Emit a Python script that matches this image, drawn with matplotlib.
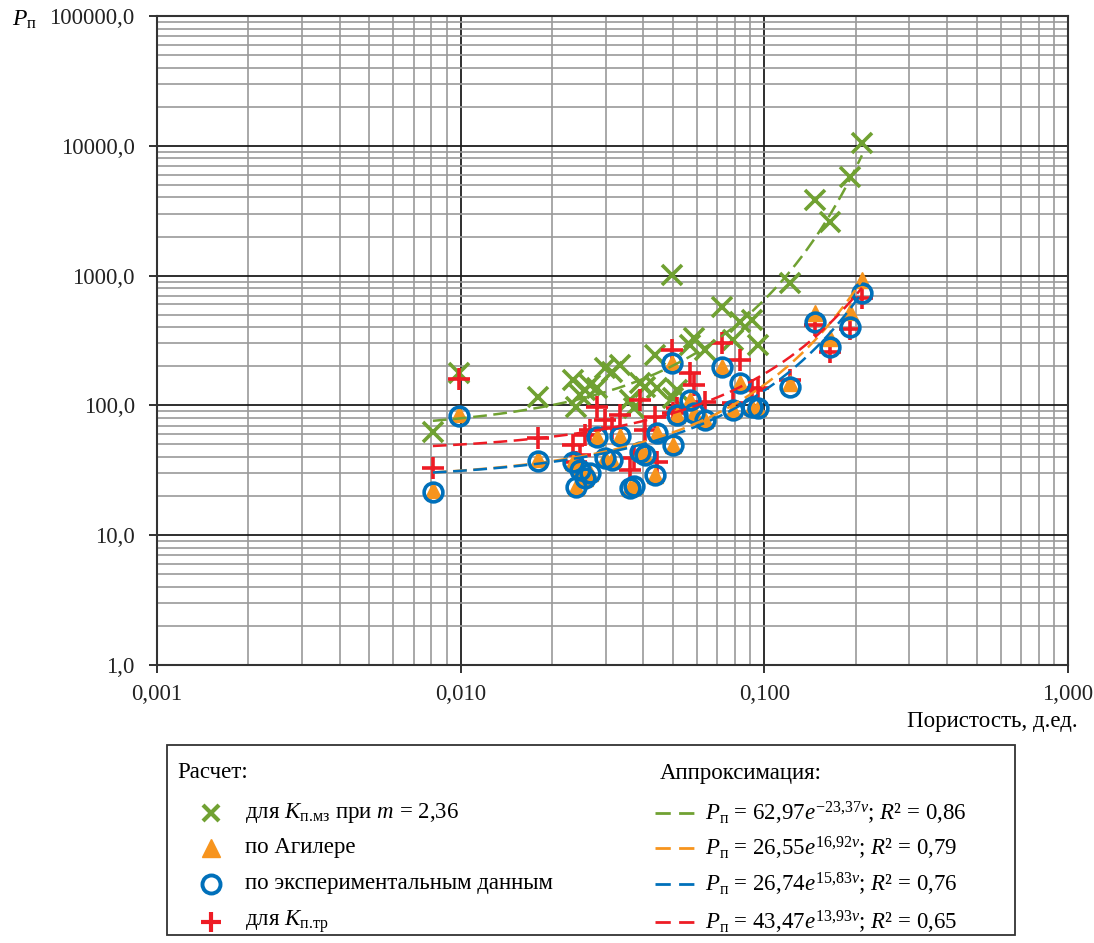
import numpy as np
import matplotlib
matplotlib.use('Agg')
import matplotlib.pyplot as plt
import matplotlib.ticker as ticker
from matplotlib.patches import Rectangle

plt.rcParams['font.family'] = ['Liberation Serif', 'DejaVu Serif']
plt.rcParams['mathtext.fontset'] = 'custom'
plt.rcParams['mathtext.rm'] = 'Liberation Serif'
plt.rcParams['mathtext.it'] = 'Liberation Serif:italic'
plt.rcParams['mathtext.bf'] = 'Liberation Serif:bold'

# porosity, fraction
porosity = [0.0081, 0.0099, 0.0180, 0.0234, 0.0240, 0.0247, 0.0257, 0.0267, 0.0281, 0.0299,
            0.0315, 0.0335, 0.0361, 0.0372, 0.0389, 0.0405, 0.0436, 0.0443, 0.0496, 0.0500,
            0.0515, 0.0569, 0.0587, 0.0638, 0.0725, 0.0788, 0.0831, 0.0910, 0.0953, 0.1214,
            0.1468, 0.1644, 0.1913, 0.2096]
# P for K_p.mz at m = 2.36
p_kpmz = [62.4, 177.7, 116, 157, 97.2, 120, 131, 143.6, 136, 194,
          181, 205, 110, 95.5, 148.8, 138.6, 244.5, 136, 1011, 114,
          131, 292, 330.6, 267, 573, 317, 439, 455, 292, 877,
          3823, 2588, 5750, 10510]
# P after Aguilera
p_aguilera = [22.3, 85.8, 38.6, 36.6, 23.5, 31.8, 27.6, 30.2, 57.1, 39.3,
              38, 58.1, 23.1, 23.9, 43.7, 41.5, 29.1, 61.3, 212, 49.5,
              84.3, 110, 87.4, 77.2, 197.6, 92.2, 148.8, 97.2, 95.5, 148.8,
              515, 330.6, 524, 925]
# P from experimental data
p_exp = [21.5, 82.9, 37.3, 36.6, 23.5, 31.8, 27.6, 30.2, 57.1, 39.3,
         38, 58.1, 23.1, 23.9, 43.7, 41.5, 29.1, 61.3, 212, 49.5,
         84.3, 110, 87.4, 77.2, 197.6, 92.2, 148.8, 97.2, 95.5, 138.6,
         439, 281.8, 401.8, 734]
# P for K_p.tr
p_kptr = [32.9, 159.7, 56.1, 49.5, 36.6, 41.5, 59.2, 64.6, 97.2, 77.2,
          67, 84.3, 31.8, 39.3, 110, 64.6, 81.4, 36.6, 267, 87.4,
          95.5, 177.7, 143.6, 106.2, 302.5, 104.3, 223.8, 131, 136, 157,
          416, 260, 388, 672]

# trend lines P = a * exp(b * v)
fit_a = [62.97, 26.55, 26.74, 43.47]
fit_b = [23.37, 16.92, 15.83, 13.93]

green = '#70A132'
orange = '#F7941D'
blue = '#0070BA'
red = '#EE1C25'

W, H = 1094, 943
fig = plt.figure(figsize=(W / 100, H / 100), dpi=100)
ax = fig.add_axes([157 / W, 1 - 665 / H, 911 / W, 649 / H])
ax.set_xscale('log')
ax.set_yscale('log')
ax.set_xlim(0.001, 1)
ax.set_ylim(1, 100000)

ax.xaxis.set_minor_locator(ticker.LogLocator(base=10, subs=np.arange(2, 10), numticks=100))
ax.yaxis.set_minor_locator(ticker.LogLocator(base=10, subs=np.arange(2, 10), numticks=100))
ax.xaxis.set_major_locator(ticker.LogLocator(base=10, numticks=100))
ax.yaxis.set_major_locator(ticker.LogLocator(base=10, numticks=100))
ax.grid(which='minor', color='#9a9a9a', lw=1.2, zorder=0)
ax.grid(which='major', color='#1e1e1e', lw=1.3, zorder=0)
ax.set_axisbelow(True)
ax.tick_params(which='minor', length=0)
ax.tick_params(which='major', length=6, width=1.3, direction='out', labelsize=16.5, colors='#222222')
ax.tick_params(axis='x', pad=8)
ax.tick_params(axis='y', pad=10)
ax.xaxis.set_major_formatter(ticker.FuncFormatter(lambda v, _: '{:.3f}'.format(v).replace('.', ',')))
ax.yaxis.set_major_formatter(ticker.FuncFormatter(lambda v, _: '{:.1f}'.format(v).replace('.', ',')))
for s in ax.spines.values():
    s.set_color('#333333')
    s.set_linewidth(1.5)

x = np.array(porosity)
ax.plot(x, p_kpmz, ls='none', marker='x', ms=14.5, mew=2.6, color=green, zorder=3)
ax.plot(x, p_kptr, ls='none', marker='+', ms=15.5, mew=2.6, color=red, zorder=4)
ax.plot(x, p_aguilera, ls='none', marker='^', ms=11, color=orange, mec=orange, zorder=5)
ax.plot(x, p_exp, ls='none', marker='o', ms=13.5, mew=2.6, mfc='none', mec=blue, zorder=6)

vv = np.geomspace(x.min(), x.max(), 300)
for a, b, c in zip(fit_a, fit_b, [green, orange, blue, red]):
    ax.plot(vv, a * np.exp(b * vv), ls=(0, (5.5, 2.6)), lw=1.8, color=c, zorder=7)

fig.text(12 / W, 1 - 20 / H, r'$P_{\mathrm{п}}$', fontsize=17, va='center', ha='left')
fig.text(1078 / W, 1 - 722 / H, 'Пористость, д.ед.', fontsize=16.5, ha='right', va='center')

# legend box, laid out in pixel coordinates
lg = fig.add_axes([0, 0, 1, 1], zorder=10)
lg.set_xlim(0, W)
lg.set_ylim(H, 0)
lg.set_axis_off()
lg.patch.set_visible(False)
lg.add_patch(Rectangle((167, 745), 848, 190, fill=True, facecolor='white', edgecolor='#333333', lw=1.3))

fs = 16.5
lg.text(177, 773, 'Расчет:', fontsize=fs, va='center')
lg.text(660, 773, 'Аппроксимация:', fontsize=fs, va='center')

rows = [813, 848, 884, 922]
lg.plot(211, rows[0], marker='x', ms=12, mew=3, color=green)
lg.plot(211, rows[1], marker='^', ms=13, color=orange)
lg.plot(211, rows[2], marker='o', ms=13, mew=2.8, mfc='none', mec=blue)
lg.plot(211, rows[3], marker='+', ms=15, mew=3, color=red)

names = [r'для $K_{\mathrm{п.\!мз}}$ при $m$ = 2,36',
         'по Агилере',
         'по экспериментальным данным',
         r'для $K_{\mathrm{п.\!тр}}$']
for yy, t in zip(rows, names):
    lg.text(245, yy, t, fontsize=fs, va='center')

eqs = [r'$P_{\mathrm{п}}$ = 62,97$e^{-23{,}37v}$; $R$² = 0,86',
       r'$P_{\mathrm{п}}$ = 26,55$e^{16{,}92v}$; $R$² = 0,79',
       r'$P_{\mathrm{п}}$ = 26,74$e^{15{,}83v}$; $R$² = 0,76',
       r'$P_{\mathrm{п}}$ = 43,47$e^{13{,}93v}$; $R$² = 0,65']
for yy, t, c in zip(rows, eqs, [green, orange, blue, red]):
    lg.plot([655, 695], [yy, yy], ls=(0, (5.5, 3)), lw=2.0, color=c)
    lg.text(705, yy, t, fontsize=fs, va='center')

fig.savefig('out.png', dpi=100)
